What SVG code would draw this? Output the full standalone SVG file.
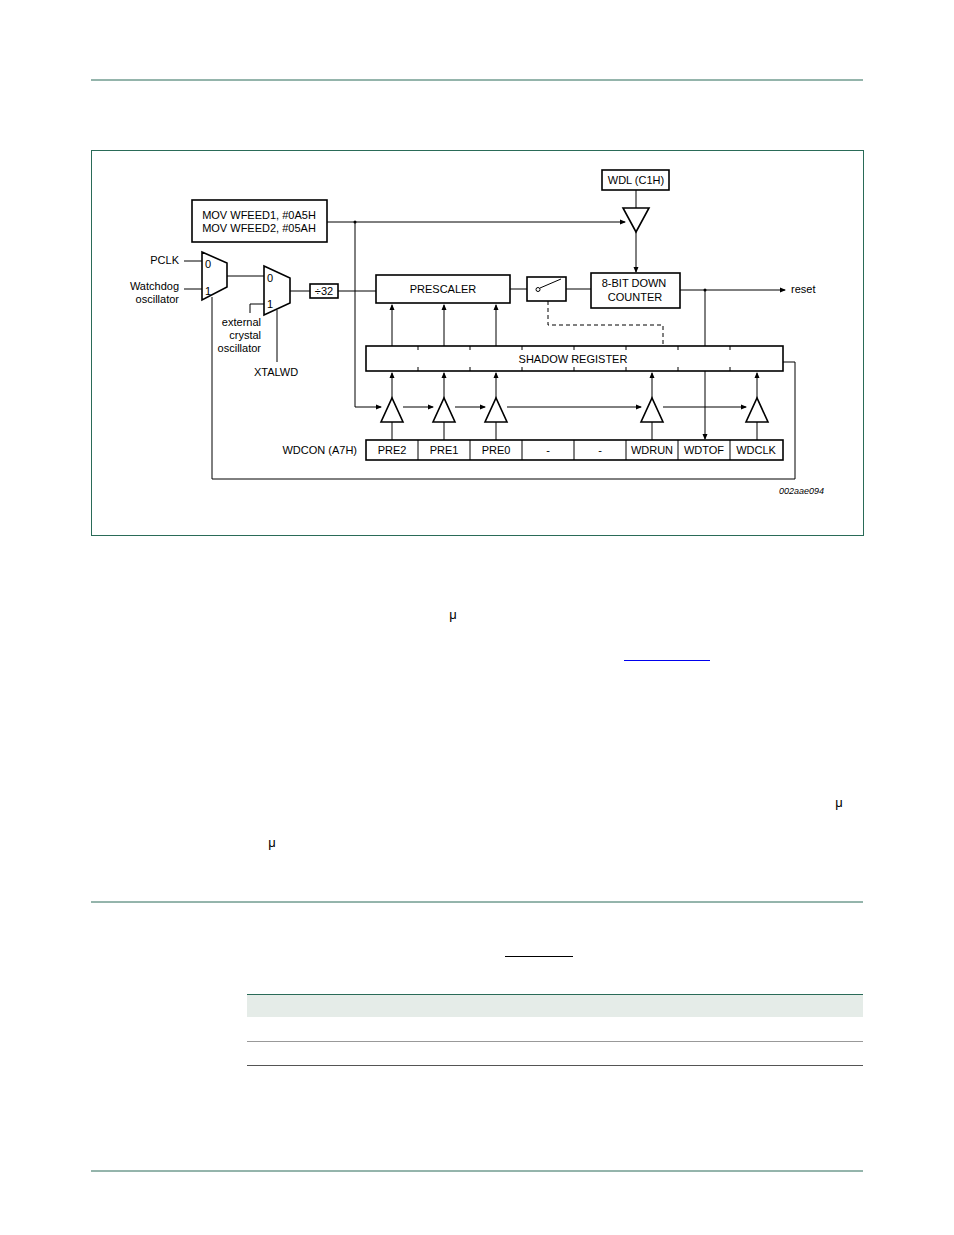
<svg xmlns="http://www.w3.org/2000/svg" width="954" height="1235" viewBox="0 0 954 1235">
<style>
text{font-family:"Liberation Sans",Arial,sans-serif;font-size:11px;fill:#000}
.b{fill:#fff;stroke:#000;stroke-width:1.6}
.l{fill:none;stroke:#000;stroke-width:1}
.g{stroke:#2a6b58;stroke-width:1;fill:none}
.m{text-anchor:middle}.e{text-anchor:end}
</style>
<defs><marker id="a" markerWidth="6" markerHeight="6" refX="5" refY="3" orient="auto" markerUnits="userSpaceOnUse"><path d="M0,0.5L6,3L0,5.5z" fill="#000"/></marker></defs>
<rect width="954" height="1235" fill="#fff"/>
<line class="g" x1="91" y1="80" x2="863" y2="80"/>
<rect class="g" x="91.5" y="150.5" width="772" height="385"/>
<line class="g" x1="91" y1="902" x2="863" y2="902"/>
<rect x="247" y="995" width="616" height="22" fill="#e5ece8"/>
<line class="g" x1="247" y1="994.5" x2="863" y2="994.5"/>
<line x1="247" y1="1041.5" x2="863" y2="1041.5" stroke="#999"/>
<line x1="247" y1="1065.5" x2="863" y2="1065.5" stroke="#555"/>
<line class="g" x1="91" y1="1171" x2="863" y2="1171"/>
<line x1="505" y1="956.5" x2="573" y2="956.5" stroke="#000"/>
<line x1="624" y1="660.5" x2="710" y2="660.5" stroke="#0000ee"/>
<text x="453" y="619" class="m" style="font-size:13px">μ</text><text x="839" y="807" class="m" style="font-size:13px">μ</text><text x="272" y="847" class="m" style="font-size:13px">μ</text>

<g id="connectors">
<path class="l" d="M327,222H625" marker-end="url(#a)"/>
<circle cx="355" cy="222" r="1.5"/>
<path class="l" d="M355,222V407H381" marker-end="url(#a)"/>
<path class="l" d="M403,407H433" marker-end="url(#a)"/>
<path class="l" d="M455,407H485" marker-end="url(#a)"/>
<path class="l" d="M507,407H641" marker-end="url(#a)"/>
<path class="l" d="M663,407H746" marker-end="url(#a)"/>
<path class="l" d="M636,190V208"/>
<path class="l" d="M636,232V272" marker-end="url(#a)"/>
<path class="l" d="M510,289H527M566,289H591"/>
<path class="l" d="M680,290H785" marker-end="url(#a)"/>
<circle cx="705" cy="290" r="1.5"/>
<path class="l" d="M705,290V346"/>
<path class="l" d="M705,346V371" stroke-dasharray="4,3"/>
<path class="l" d="M705,371V439" marker-end="url(#a)"/>
<path class="l" d="M548,301V325H663V346" stroke-dasharray="4,3"/>
<path class="l" d="M392,346V305" marker-end="url(#a)"/>
<path class="l" d="M444,346V305" marker-end="url(#a)"/>
<path class="l" d="M496,346V305" marker-end="url(#a)"/>
<path class="l" d="M392,398V373" marker-end="url(#a)"/>
<path class="l" d="M444,398V373" marker-end="url(#a)"/>
<path class="l" d="M496,398V373" marker-end="url(#a)"/>
<path class="l" d="M652,398V373" marker-end="url(#a)"/>
<path class="l" d="M757,398V373" marker-end="url(#a)"/>
<path class="l" d="M392,422V440M444,422V440M496,422V440M652,422V440M757,422V440"/>
<path class="l" d="M783,362H795V479H212V297"/>
<path class="l" d="M184,261H202M184,289H202M227,276H264M264,304H250V313M277,310V362M290,291H310M338,291H376"/>
</g>

<g id="mov"><rect class="b" x="192" y="200" width="135" height="42"/><text x="259" y="219" class="m">MOV WFEED1, #0A5H</text><text x="259" y="232" class="m">MOV WFEED2, #05AH</text></g>
<g id="wdl"><rect class="b" x="602" y="170" width="67" height="20"/><text x="636" y="184" class="m">WDL (C1H)</text></g>
<g id="buf"><path class="b" d="M623,208H649L636,232z"/></g>
<g id="counter"><rect class="b" x="591" y="273" width="89" height="35"/><text x="634" y="287" class="m">8-BIT DOWN</text><text x="635" y="301" class="m">COUNTER</text></g>
<g id="prescaler"><rect class="b" x="376" y="275" width="134" height="28"/><text x="443" y="293" class="m">PRESCALER</text></g>
<g id="switch"><rect class="b" x="527" y="277" width="39" height="24"/><circle cx="538" cy="289.5" r="2" fill="#fff" stroke="#000"/><path class="l" d="M540,288L561,279" stroke-width="1.5"/></g>
<g id="div"><rect class="b" x="310" y="284" width="28" height="14" stroke-width="1.2"/><text x="324" y="295" class="m">÷32</text></g>
<g id="mux1"><path class="b" d="M202,252L227,263V287L202,300z"/><text x="205" y="268">0</text><text x="205" y="295">1</text>
<text x="179" y="264" class="e">PCLK</text><text x="179" y="290" class="e">Watchdog</text><text x="179" y="303" class="e">oscillator</text></g>
<g id="mux2"><path class="b" d="M264,266L290,278V303L264,315z"/><text x="267" y="282">0</text><text x="267" y="308">1</text>
<text x="261" y="326" class="e">external</text><text x="261" y="339" class="e">crystal</text><text x="261" y="352" class="e">oscillator</text><text x="276" y="376" class="m">XTALWD</text></g>
<g id="shadow"><rect class="b" x="366" y="346" width="417" height="25"/>
<path class="l" d="M418,346v4M470,346v4M522,346v4M574,346v4M626,346v4M678,346v4M730,346v4M418,371v-4M470,371v-4M522,371v-4M574,371v-4M626,371v-4M678,371v-4M730,371v-4"/>
<text x="573" y="363" class="m">SHADOW REGISTER</text></g>
<g id="gates">
<path class="b" d="M381,422H403L392,398z"/><path class="b" d="M433,422H455L444,398z"/><path class="b" d="M485,422H507L496,398z"/><path class="b" d="M641,422H663L652,398z"/><path class="b" d="M746,422H768L757,398z"/>
</g>
<g id="wdcon"><rect class="b" x="366" y="440" width="417" height="20"/>
<path class="l" d="M418,440v20M470,440v20M522,440v20M574,440v20M626,440v20M678,440v20M730,440v20"/>
<text x="357" y="454" class="e">WDCON (A7H)</text>
<text x="392" y="454" class="m">PRE2</text><text x="444" y="454" class="m">PRE1</text><text x="496" y="454" class="m">PRE0</text><text x="548" y="454" class="m">-</text><text x="600" y="454" class="m">-</text><text x="652" y="454" class="m">WDRUN</text><text x="704" y="454" class="m">WDTOF</text><text x="756" y="454" class="m">WDCLK</text></g>
<text x="791" y="293">reset</text>
<text x="824" y="494" class="e" font-style="italic" style="font-size:9px">002aae094</text>
</svg>
